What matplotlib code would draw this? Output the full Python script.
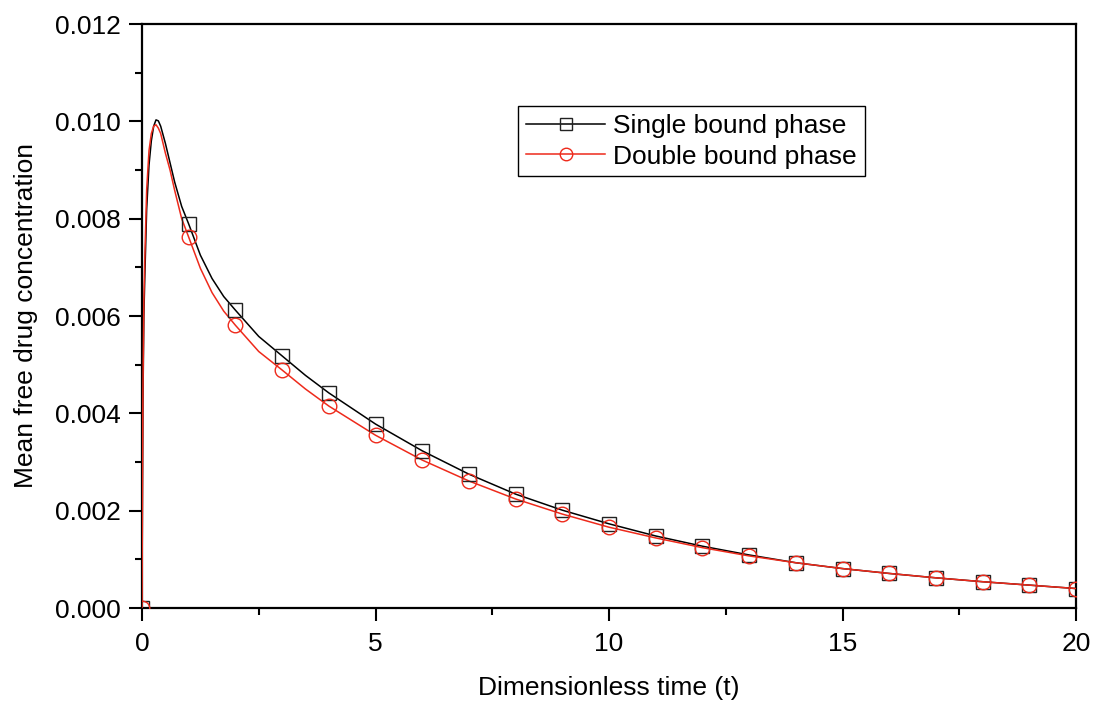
import matplotlib
matplotlib.use("Agg")
import matplotlib.pyplot as plt
from matplotlib.ticker import MultipleLocator, FormatStrFormatter

# curve points
t_line = [0, 0.01, 0.02, 0.04, 0.06, 0.1, 0.15, 0.2, 0.25, 0.3, 0.35, 0.4, 0.5, 0.6, 0.7, 0.85,
          1, 1.25, 1.5, 1.75, 2, 2.5, 3, 3.5, 4, 5, 6, 7, 8, 9, 10, 11, 12, 13, 14, 15, 16, 17, 18, 19, 20]
c_line_single = [0, 0.0025, 0.0042, 0.0060, 0.0068, 0.0082, 0.0091, 0.0096, 0.0099, 0.01003, 0.01001, 0.0099,
                 0.00955, 0.00915, 0.00875, 0.00825, 0.00789, 0.00725, 0.00677, 0.00640, 0.00612, 0.00558,
                 0.00518, 0.00478, 0.00442, 0.00378, 0.00323, 0.00275, 0.00234, 0.00201, 0.00173, 0.00148,
                 0.00127, 0.00109, 0.00093, 0.00081, 0.00071, 0.00062, 0.00054, 0.00047, 0.00040]
c_line_double = [0, 0.0027, 0.0045, 0.0063, 0.0072, 0.0086, 0.0094, 0.00975, 0.0099, 0.00993, 0.00986, 0.00975,
                 0.00935, 0.00900, 0.00858, 0.00800, 0.00762, 0.00698, 0.00648, 0.00610, 0.00581, 0.00527,
                 0.00489, 0.00450, 0.00415, 0.00355, 0.00304, 0.00261, 0.00224, 0.00193, 0.00166, 0.00144,
                 0.00124, 0.00107, 0.00093, 0.00081, 0.00071, 0.00062, 0.00054, 0.00047, 0.00040]

# marker points at integer times
t_markers = list(range(0, 21))
c_markers_single = [0, 0.00789, 0.00612, 0.00518, 0.00442, 0.00378, 0.00323, 0.00275, 0.00234, 0.00201,
                    0.00173, 0.00148, 0.00127, 0.00109, 0.00093, 0.00081, 0.00071, 0.00062, 0.00054,
                    0.00047, 0.00040]
c_markers_double = [0, 0.00762, 0.00581, 0.00489, 0.00415, 0.00355, 0.00304, 0.00261, 0.00224, 0.00193,
                    0.00166, 0.00144, 0.00124, 0.00107, 0.00093, 0.00081, 0.00071, 0.00062, 0.00054,
                    0.00047, 0.00040]

labels = ["Single bound phase", "Double bound phase"]

plt.rcParams['font.family'] = ['Liberation Sans', 'DejaVu Sans']
FS = 19

fig = plt.figure(figsize=(10.95, 7.06), dpi=100)
ax = fig.add_axes([142/1095, 98/706, 934/1095, 584/706])

ax.plot(t_line, c_line_single, color='black', lw=1.1, zorder=3)
ax.plot(t_line, c_line_double, color='#ee2a1b', lw=1.1, zorder=3)
ax.plot(t_markers, c_markers_single, ls='none', marker='s', ms=10, mfc='none', mec='#222222', mew=1.0, zorder=4)
ax.plot(t_markers, c_markers_double, ls='none', marker='o', ms=10.5, mfc='none', mec='#ee2a1b', mew=1.0, zorder=4)

# legend proxies
h1, = ax.plot([], [], color='black', lw=1.1, marker='s', ms=9, mfc='none', mec='#222222', mew=1.0)
h2, = ax.plot([], [], color='#ee2a1b', lw=1.1, marker='o', ms=9, mfc='none', mec='#ee2a1b', mew=1.0)
leg = ax.legend([h1, h2], labels, loc='upper left', bbox_to_anchor=((518-142)/934, (608-106)/584),
                fontsize=FS, frameon=True, fancybox=False, framealpha=1, edgecolor='black',
                borderpad=0.3, handlelength=3.0, handletextpad=0.3, labelspacing=0.25, borderaxespad=0)
leg.get_frame().set_linewidth(1.0)

ax.set_xlim(0, 20)
ax.set_ylim(0, 0.012)
ax.xaxis.set_major_locator(MultipleLocator(5))
ax.xaxis.set_minor_locator(MultipleLocator(2.5))
ax.yaxis.set_major_locator(MultipleLocator(0.002))
ax.yaxis.set_minor_locator(MultipleLocator(0.001))
ax.yaxis.set_major_formatter(FormatStrFormatter('%.3f'))
ax.tick_params(which='major', direction='out', length=9.5, width=1.5, labelsize=FS)
ax.tick_params(which='minor', direction='out', length=5, width=1.5)
ax.tick_params(axis='y', which='major', pad=6)
ax.tick_params(axis='x', which='major', pad=8)
for s in ax.spines.values():
    s.set_linewidth(1.6)

ax.set_xlabel("Dimensionless time (t)", fontsize=FS, labelpad=14)
ax.set_ylabel("Mean free drug concentration", fontsize=FS, labelpad=12)

fig.savefig("out.png", dpi=100)
